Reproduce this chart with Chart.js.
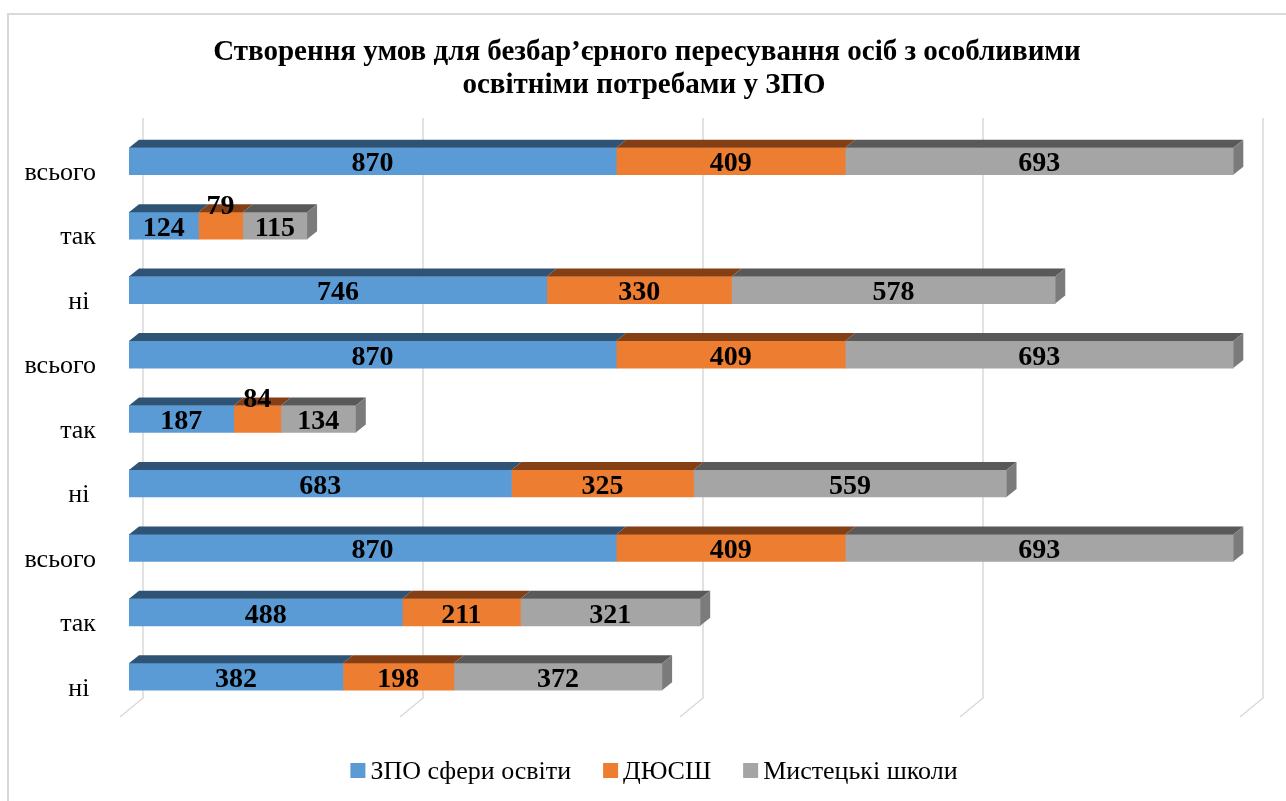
<!DOCTYPE html>
<html>
<head>
<meta charset="utf-8">
<script src="https://cdn.jsdelivr.net/npm/chart.js@4.4.1/dist/chart.umd.min.js"></script>
<style>
  html, body { margin: 0; padding: 0; background: #fff; }
  #wrap { width: 1286px; height: 801px; }
</style>
</head>
<body>
<div id="wrap"><canvas id="myChart" width="1286" height="801"></canvas></div>
<script>
//  Data
var categories = ["всього", "так", "ні ", "всього", "так", "ні ", "всього", "так", "ні "];
var zpoValues = [870, 124, 746, 870, 187, 683, 870, 488, 382];
var dyusshValues = [409, 79, 330, 409, 84, 325, 409, 211, 198];
var artValues = [693, 115, 578, 693, 134, 559, 693, 321, 372];
var seriesNames = ["ЗПО сфери освіти", "ДЮСШ", "Мистецькі школи"];
var axisTicks = [0, 500, 1000, 1500, 2000];
var titleLines = [
  "Створення умов для безбар’єрного пересування осіб з особливими",
  "освітніми потребами у ЗПО"
];

var frontColors = ["#5b9bd5", "#ed7d31", "#a5a5a5"];
var topColors = ["#2e5375", "#843f14", "#595959"];
var sideColors = ["#3f6f99", "#b35d22", "#7b7b7b"];
var serif = "'Liberation Serif', 'Times New Roman', serif";

var depthX = 10;
var depthY = 8;

// border, title, slanted grid, 3D faces, value labels and legend
var fakeThreeD = {
  id: "fakeThreeD",
  beforeDraw: function(chart) {
    var ctx = chart.ctx;
    ctx.save();
    ctx.strokeStyle = "#d9d9d9";
    ctx.lineWidth = 2;
    ctx.strokeRect(8, 14, 1300, 820);

    ctx.fillStyle = "#000";
    ctx.font = "bold 29px " + serif;
    ctx.textAlign = "center";
    ctx.textBaseline = "middle";
    ctx.fillText(titleLines[0], 647, 53);
    ctx.fillText(titleLines[1], 644, 86);
    ctx.restore();
  },
  beforeDatasetsDraw: function(chart) {
    var ctx = chart.ctx;
    var xs = chart.scales.x;
    ctx.save();
    ctx.strokeStyle = "#d9d9d9";
    ctx.lineWidth = 1.5;
    axisTicks.forEach(function(v) {
      var px = xs.getPixelForValue(v);
      ctx.beginPath();
      ctx.moveTo(px + 14, 118);
      ctx.lineTo(px + 14, 698);
      ctx.lineTo(px - 9, 717);
      ctx.stroke();
    });
    ctx.restore();
  },
  afterDatasetsDraw: function(chart) {
    var ctx = chart.ctx;
    var n = chart.data.datasets.length;
    ctx.save();
    for (var d = 0; d < n; d++) {
      var meta = chart.getDatasetMeta(d);
      meta.data.forEach(function(bar) {
        var top = bar.y - bar.height / 2;
        var bottom = bar.y + bar.height / 2;
        var left = Math.min(bar.base, bar.x);
        var right = Math.max(bar.base, bar.x);
        ctx.fillStyle = topColors[d];
        ctx.beginPath();
        ctx.moveTo(left, top);
        ctx.lineTo(right, top);
        ctx.lineTo(right + depthX, top - depthY);
        ctx.lineTo(left + depthX, top - depthY);
        ctx.closePath();
        ctx.fill();
        if (d === n - 1) {
          ctx.fillStyle = sideColors[d];
          ctx.beginPath();
          ctx.moveTo(right, top);
          ctx.lineTo(right + depthX, top - depthY);
          ctx.lineTo(right + depthX, bottom - depthY);
          ctx.lineTo(right, bottom);
          ctx.closePath();
          ctx.fill();
        }
      });
    }

    // value labels
    ctx.fillStyle = "#000";
    ctx.font = "bold 28px " + serif;
    ctx.textAlign = "center";
    ctx.textBaseline = "middle";
    for (var d2 = 0; d2 < n; d2++) {
      var meta2 = chart.getDatasetMeta(d2);
      var vals = chart.data.datasets[d2].data;
      meta2.data.forEach(function(bar, i) {
        var w = Math.abs(bar.x - bar.base);
        var cx = (bar.x + bar.base) / 2;
        var cy = bar.y + 3;
        if (w < 55) cy = bar.y - 19;
        ctx.fillText(String(vals[i]), cx, cy);
      });
    }
    ctx.restore();
  },
  afterDraw: function(chart) {
    var ctx = chart.ctx;
    ctx.save();
    ctx.font = "26px " + serif;
    var box = 15, gap = 5, itemGap = 32;
    var widths = seriesNames.map(function(s) { return ctx.measureText(s).width; });
    var total = 0;
    widths.forEach(function(w, i) {
      total += box + gap + w + (i < widths.length - 1 ? itemGap : 0);
    });
    var x = 654 - total / 2;
    ctx.textAlign = "left";
    ctx.textBaseline = "middle";
    seriesNames.forEach(function(s, i) {
      ctx.fillStyle = frontColors[i];
      ctx.fillRect(x, 763, box, box);
      ctx.fillStyle = "#000";
      ctx.fillText(s, x + box + gap, 772);
      x += box + gap + widths[i] + itemGap;
    });
    ctx.restore();
  }
};

function createBarChart() {
  new Chart("myChart", {
    type: "bar",
    data: {
      labels: categories,
      datasets: [
        { label: seriesNames[0], data: zpoValues, backgroundColor: frontColors[0] },
        { label: seriesNames[1], data: dyusshValues, backgroundColor: frontColors[1] },
        { label: seriesNames[2], data: artValues, backgroundColor: frontColors[2] }
      ]
    },
    plugins: [fakeThreeD],
    options: {
      indexAxis: "y",
      responsive: false,
      animation: false,
      layout: { padding: { left: 0, right: 37, top: 129, bottom: 92 } },
      datasets: { bar: { barThickness: 27 } },
      scales: {
        x: {
          display: false,
          stacked: true,
          min: 0,
          max: 2000
        },
        y: {
          stacked: true,
          grid: { display: false, drawTicks: false },
          border: { display: false },
          ticks: {
            color: "#000",
            font: { family: serif, size: 26 },
            crossAlign: "near",
            padding: 33,
            labelOffset: 12
          },
          afterFit: function(s) { s.width = 129; }
        }
      },
      plugins: {
        title: { display: false },
        legend: { display: false },
        tooltip: { enabled: false }
      }
    }
  });
}

createBarChart();
</script>
</body>
</html>
